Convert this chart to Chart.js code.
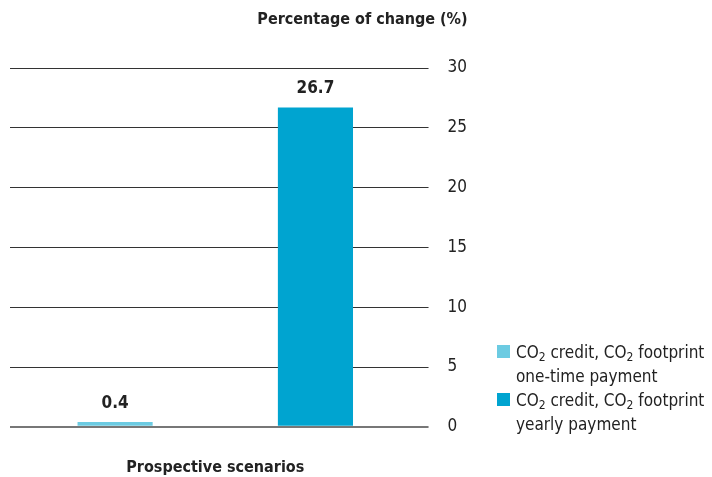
<!DOCTYPE html>
<html>
<head>
<meta charset="utf-8">
<script src="https://cdn.jsdelivr.net/npm/chart.js@4.4.1/dist/chart.umd.min.js"></script>
<style>
  html, body { margin: 0; padding: 0; background: #fff; }
  #wrap { position: relative; width: 712px; height: 477px; }
  #legend {
    position: absolute; left: 497px; top: 340px;
    font-family: "DejaVu Sans Condensed", "DejaVu Sans", sans-serif;
    font-size: 17px; line-height: 24px; color: #222;
  }
  #legend .item { position: relative; padding-left: 19px; white-space: nowrap; }
  #legend .box { position: absolute; left: 0; top: 5px; width: 13px; height: 13px; }
  #legend sub { font-size: 12px; vertical-align: -3px; line-height: 0; }
</style>
</head>
<body>
<div id="wrap">
  <canvas id="chart" width="712" height="477"></canvas>
  <div id="legend"></div>
</div>
<script>
const categories = ['Prospective scenarios'];
const seriesNames = [
  'CO<sub>2</sub> credit, CO<sub>2</sub> footprint<br>one-time payment',
  'CO<sub>2</sub> credit, CO<sub>2</sub> footprint<br>yearly payment'
];
const oneTimePayment = [0.4];
const yearlyPayment = [26.7];
const colors = ['#6ccbe2', '#00a4d0'];

const FONT = '"DejaVu Sans Condensed", "DejaVu Sans", sans-serif';

// value labels above each bar
const valueLabels = {
  id: 'valueLabels',
  afterDatasetsDraw(chart) {
    const ctx = chart.ctx;
    ctx.save();
    ctx.font = 'bold 17px ' + FONT;
    ctx.fillStyle = '#222';
    ctx.textAlign = 'center';
    ctx.textBaseline = 'bottom';
    chart.data.datasets.forEach((ds, i) => {
      chart.getDatasetMeta(i).data.forEach((bar, j) => {
        ctx.fillText(ds.data[j].toFixed(1), bar.x, bar.y - 10);
      });
    });
    ctx.restore();
  }
};

// axis caption above the value scale
const axisCaption = {
  id: 'axisCaption',
  afterDraw(chart) {
    const ctx = chart.ctx;
    const y = chart.scales.y;
    ctx.save();
    ctx.font = 'bold 16px ' + FONT;
    ctx.fillStyle = '#222';
    ctx.textAlign = 'right';
    ctx.textBaseline = 'middle';
    ctx.fillText('Percentage of change (%)', y.left + 47, 20);
    ctx.restore();
  }
};

new Chart(document.getElementById('chart'), {
  type: 'bar',
  data: {
    labels: categories,
    datasets: [
      { label: 'one-time payment', data: oneTimePayment, backgroundColor: colors[0] },
      { label: 'yearly payment', data: yearlyPayment, backgroundColor: colors[1] }
    ]
  },
  options: {
    responsive: false,
    animation: false,
    layout: { padding: { left: 10, right: 226, top: 68, bottom: 0 } },
    datasets: { bar: { categoryPercentage: 0.976, barPercentage: 0.375 } },
    plugins: { legend: { display: false }, tooltip: { enabled: false } },
    scales: {
      x: {
        grid: { display: false },
        border: { display: false },
        ticks: { display: false },
        title: {
          display: true, text: 'Prospective scenarios',
          color: '#222', font: { family: FONT, size: 16, weight: 'bold' },
          padding: { top: 23, bottom: 0 }
        }
      },
      y: {
        position: 'right',
        min: 0, max: 30,
        ticks: {
          stepSize: 5, color: '#222', padding: 19,
          font: { family: FONT, size: 17 }
        },
        border: { display: false },
        grid: {
          color: ctx => ctx.tick && ctx.tick.value === 0 ? '#777' : '#333',
          lineWidth: ctx => ctx.tick && ctx.tick.value === 0 ? 2 : 1,
          tickLength: 8
        }
      }
    }
  },
  plugins: [valueLabels, axisCaption]
});

document.getElementById('legend').innerHTML = seriesNames.map((name, i) =>
  '<div class="item"><span class="box" style="background:' + colors[i] + '"></span>' + name + '</div>'
).join('');
</script>
</body>
</html>
